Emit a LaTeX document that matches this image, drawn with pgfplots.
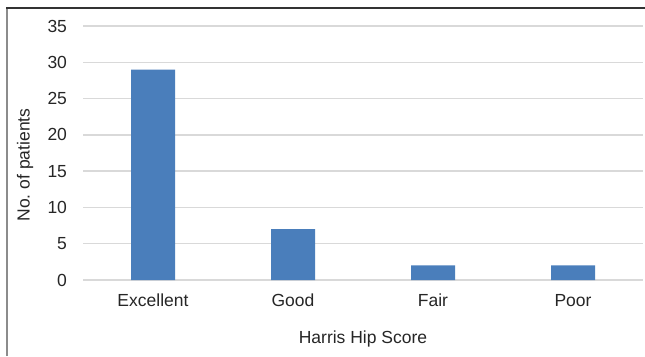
\documentclass[border=0pt]{standalone}
\usepackage{fontspec}
\setmainfont{Liberation Sans}
\usepackage{pgfplots}
\pgfplotsset{compat=1.18}
\definecolor{barblue}{RGB}{74,126,187}
\definecolor{gridgray}{RGB}{217,217,217}
\definecolor{txt}{RGB}{38,38,38}
\begin{document}
\fontsize{17.5}{21}\selectfont
\begin{tikzpicture}[x=1pt,y=1pt]
\useasboundingbox (0,0) rectangle (645,356);
\draw[color={rgb,255:red,140;green,140;blue,140}, line width=2pt] (7,0) -- (7,348);
\draw[color={rgb,255:red,50;green,50;blue,50}, line width=2pt] (6,348) -- (645,348);
\begin{axis}[
  at={(83pt,76pt)}, anchor=south west,
  scale only axis, width=560pt, height=254pt,
  xmin=-0.5, xmax=3.5, ymin=0, ymax=35,
  xtick={0,1,2,3},
  xticklabels={Excellent,Good,Fair,Poor},
  ytick={0,5,...,35},
  ymajorgrids, grid style={gridgray, line width=1.5pt},
  axis line style={draw=none},
  major tick length=0pt,
  tick label style={font=\fontsize{17.5}{21}\selectfont, text=txt},
  yticklabel style={xshift=-10pt},
  xticklabel style={yshift=-8pt},
  /pgf/number format/assume math mode=true,
  xlabel={Harris Hip Score},
  ylabel={No.\ of patients},
  label style={font=\fontsize{17.5}{21}\selectfont, text=txt},
  xlabel style={at={(axis description cs:0.5,0)}, anchor=center, yshift=-59pt},
  ylabel style={at={(axis description cs:0,0.5)}, anchor=center, rotate=0, yshift=58pt, xshift=-12pt},
  clip=false,
]
\addplot[ybar, bar width=44pt, fill=barblue, draw=none] coordinates {(0,29) (1,7) (2,2) (3,2)};
\end{axis}
\end{tikzpicture}
\end{document}
